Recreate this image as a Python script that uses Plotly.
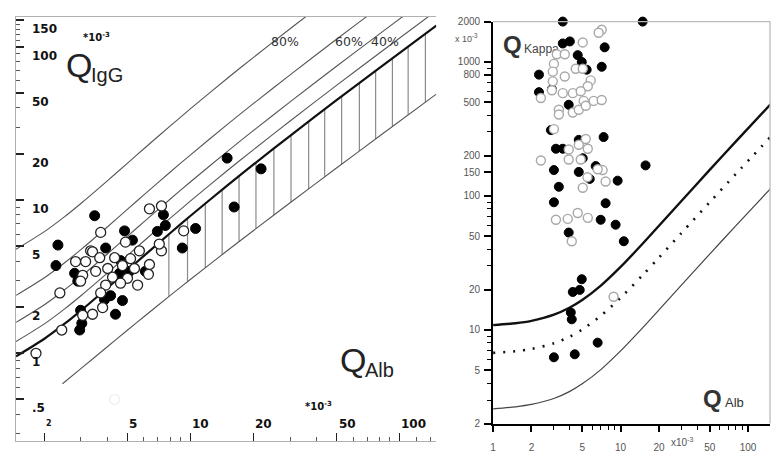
import math
import plotly.graph_objects as go

W, H = 773, 454

# ---------------- Left panel data (QIgG vs QAlb, units 1e-3) ----------------
alb_grid = [1.47, 2, 2.5, 3, 4, 5, 6, 8, 10, 15, 20, 30, 50, 80, 150]
igg_qlim = [0.956, 1.241, 1.555, 1.902, 2.662, 3.478, 4.327, 6.081, 7.875, 12.44, 17.04, 26.29, 44.86, 72.73, 137.8]
alb_low = [2.45, 3, 4, 5, 6, 8, 10, 15, 20, 30, 50, 80, 150]
igg_qlow = [0.633, 0.795, 1.100, 1.415, 1.734, 2.381, 3.033, 4.672, 6.316, 9.611, 16.21, 26.10, 49.20]
intrathecal_fractions = [0.2, 0.4, 0.6, 0.8]

hatch_alb = [7.9, 9.7, 11.8, 14.2, 17.1, 20.6, 25.1, 30.3, 36.8, 43.9, 52.9, 64.3, 76.9, 92.5, 110, 133]
hatch_low = [2.35, 2.93, 3.62, 4.41, 5.36, 6.51, 8.00, 9.71, 11.85, 14.19, 17.16, 20.92, 25.08, 30.23, 36.00, 43.59]
hatch_lim = [5.99, 7.60, 9.51, 11.70, 14.37, 17.59, 21.75, 26.57, 32.60, 39.19, 47.55, 58.14, 69.85, 84.36, 100.63, 122.01]

igg_filled_alb = [15.0, 21.8, 3.49, 16.2, 7.44, 4.85, 7.6, 10.6, 6.96, 5.29, 2.33, 3.94, 9.16, 2.28, 4.64,
                  2.80, 4.59, 5.12, 6.1, 4.74, 2.90, 4.16, 3.89, 4.74, 2.99, 4.39, 3.03, 2.96]
igg_filled_q = [18.8, 16.0, 7.91, 9.02, 8.02, 6.3, 6.83, 6.53, 6.25, 5.48, 5.09, 4.87, 4.87, 3.74, 4.03,
                3.33, 3.33, 3.43, 3.43, 3.23, 2.96, 2.38, 2.24, 2.21, 1.91, 1.80, 1.57, 1.42]
igg_open_alb = [6.38, 7.28, 9.3, 3.73, 4.90, 5.71, 7.28, 7.11, 3.34, 3.41, 2.83, 3.16, 3.69, 4.35, 5.18,
                6.38, 4.74, 5.41, 4.03, 3.53, 3.06, 6.31, 4.25, 5.01, 3.94, 4.64, 5.6, 2.99, 2.38, 3.73,
                3.81, 3.41, 3.06, 2.43, 1.83]
igg_open_q = [8.77, 9.16, 6.3, 6.16, 5.32, 4.67, 4.67, 5.17, 4.67, 4.6, 3.97, 3.97, 4.21, 4.21, 4.15,
              3.80, 3.74, 3.58, 3.58, 3.43, 3.23, 3.28, 3.14, 3.09, 2.79, 2.87, 2.79, 2.96, 2.48, 2.48,
              1.99, 1.80, 1.77, 1.42, 1.0]
igg_faint_alb = [4.35]
igg_faint_q = [0.50]

left_yticks = [0.5, 1, 2, 5, 10, 20, 50, 100, 150]
left_yticktext = [".5", "1", "2", "5", "10", "20", "50", "100", "150"]
left_xticks = [2, 5, 10, 20, 50, 100]
left_xticktext = ["2", "5", "10", "20", "50", "100"]
fraction_labels = ["80%", "60%", "40%"]

# ---------------- Right panel data (QKappa vs QAlb, units 1e-3) ----------------
alb_k = [1, 1.5, 2, 3, 4, 5, 7, 10, 15, 20, 30, 50, 80, 150]
kappa_lim = [10.87, 11.21, 11.69, 12.99, 14.69, 16.70, 21.41, 29.51, 44.32, 59.85, 91.68, 156.4, 254.1, 482.7]
kappa_mean = [6.74, 6.94, 7.21, 7.95, 8.92, 10.07, 12.76, 17.38, 25.83, 34.69, 52.86, 89.77, 145.5, 276.0]
kappa_low = [2.58, 2.67, 2.78, 3.08, 3.48, 3.96, 5.06, 6.97, 10.45, 14.10, 21.59, 36.80, 59.78, 113.5]

kap_filled_alb = [3.52, 14.9, 3.52, 4.0, 7.5, 4.61, 4.96, 2.29, 7.11, 5.42, 2.29, 2.89, 3.92, 2.84, 7.36,
                  3.11, 3.52, 4.70, 5.05, 3.0, 4.70, 6.38, 5.73, 15.7, 3.28, 9.48, 3.0, 7.63, 6.98, 9.14,
                  3.92, 10.6, 4.96, 4.22, 4.78, 4.07, 4.14, 6.61, 3.0, 4.37]
kap_filled_q = [2000, 2000, 1373, 1422, 1285, 1124, 1000, 804, 920, 875, 595, 626, 479, 310, 275,
                225, 225, 262, 191, 156, 151, 167, 134, 169, 117, 130, 89.7, 88.2, 66.4, 61.0,
                53.3, 45.9, 23.9, 19.2, 19.9, 13.5, 12.0, 8.04, 6.25, 6.58]
kap_open_alb = [7.11, 6.73, 5.05, 3.16, 3.65, 3.0, 4.45, 5.05, 2.94, 3.65, 5.83, 2.94, 5.53, 3.52, 4.22,
                4.87, 2.89, 2.37, 5.14, 6.15, 7.11, 3.28, 4.22, 4.70, 5.33, 3.28, 3.0, 5.33, 4.70, 5.53,
                3.92, 2.37, 3.92, 4.87, 7.23, 6.61, 5.05, 7.63, 5.5, 3.11, 3.85, 4.61, 5.53, 4.14, 8.82]
kap_open_q = [1738, 1652, 1398, 1142, 1142, 967, 890, 890, 846, 778, 728, 716, 658, 585, 585,
              605, 615, 538, 512, 512, 520, 440, 419, 440, 471, 405, 315, 266, 241, 225,
              222, 184, 187, 187, 156, 158, 115, 128, 138, 66.4, 67.4, 74.6, 68.6, 45.9, 17.7]

right_yticks = [2, 5, 10, 20, 50, 100, 150, 200, 500, 800, 1000, 2000]
right_xticks = [1, 2, 5, 10, 20, 50, 100, 150]


def px(x):
    return x / W


def py(y):
    return 1 - y / H


fig = go.Figure()

# ----- left panel lines -----
LX, LY = "x", "y"
hx, hy = [], []
for a, lo, hi in zip(hatch_alb, hatch_low, hatch_lim):
    hx += [a, a, None]
    hy += [lo, hi, None]
fig.add_trace(go.Scatter(x=hx, y=hy, mode="lines", line=dict(color="#8a8a8a", width=1.2),
                         xaxis=LX, yaxis=LY, hoverinfo="skip"))
for f in intrathecal_fractions:
    fig.add_trace(go.Scatter(x=alb_grid, y=[q / (1 - f) for q in igg_qlim], mode="lines",
                             line=dict(color="#555", width=1.1, shape="spline", smoothing=0.8),
                             xaxis=LX, yaxis=LY, hoverinfo="skip"))
fig.add_trace(go.Scatter(x=alb_low, y=igg_qlow, mode="lines",
                         line=dict(color="#555", width=1.1, shape="spline", smoothing=0.8),
                         xaxis=LX, yaxis=LY))
fig.add_trace(go.Scatter(x=alb_grid, y=igg_qlim, mode="lines",
                         line=dict(color="#111", width=2.2, shape="spline", smoothing=0.8),
                         xaxis=LX, yaxis=LY))
fig.add_trace(go.Scatter(x=igg_faint_alb, y=igg_faint_q, mode="markers",
                         marker=dict(size=10, color="white", line=dict(color="#eeeeee", width=1.2)),
                         xaxis=LX, yaxis=LY))
fig.add_trace(go.Scatter(x=igg_filled_alb, y=igg_filled_q, mode="markers",
                         marker=dict(size=10, color="black", line=dict(color="black", width=1)),
                         xaxis=LX, yaxis=LY))
fig.add_trace(go.Scatter(x=igg_open_alb, y=igg_open_q, mode="markers",
                         marker=dict(size=10, color="white", line=dict(color="#222", width=1.3)),
                         xaxis=LX, yaxis=LY))

# ----- right panel -----
RX, RY = "x2", "y2"
fig.add_trace(go.Scatter(x=[1.75], y=[1230], mode="text", text=["Kappa"], textposition="middle right",
                         textfont=dict(family="Liberation Sans, Arial", size=12, color="#444"),
                         xaxis=RX, yaxis=RY, cliponaxis=False))
fig.add_trace(go.Scatter(x=alb_k, y=kappa_low, mode="lines",
                         line=dict(color="#444", width=1.2, shape="spline", smoothing=0.8),
                         xaxis=RX, yaxis=RY))
fig.add_trace(go.Scatter(x=alb_k, y=kappa_mean, mode="lines",
                         line=dict(color="#111", width=2.6, dash="2px,8px", shape="spline", smoothing=0.8),
                         xaxis=RX, yaxis=RY))
fig.add_trace(go.Scatter(x=alb_k, y=kappa_lim, mode="lines",
                         line=dict(color="#111", width=2.4, shape="spline", smoothing=0.8),
                         xaxis=RX, yaxis=RY))
fig.add_trace(go.Scatter(x=kap_filled_alb, y=kap_filled_q, mode="markers", cliponaxis=False,
                         marker=dict(size=9, color="black", line=dict(color="black", width=1)),
                         xaxis=RX, yaxis=RY))
fig.add_trace(go.Scatter(x=kap_open_alb, y=kap_open_q, mode="markers", cliponaxis=False,
                         marker=dict(size=9, color="white", line=dict(color="#a8a8a8", width=1.4)),
                         xaxis=RX, yaxis=RY))

bold_font = dict(family="DejaVu Sans, Verdana", size=12, color="#111", weight="bold")
grey_font = dict(family="Liberation Sans, Arial", size=10, color="#555")

fig.update_layout(
    width=W, height=H, margin=dict(l=0, r=0, t=0, b=0),
    paper_bgcolor="white", plot_bgcolor="white", showlegend=False,
    xaxis=dict(type="log", domain=[px(13), px(435)], range=[0.1667, 2.176], anchor="y",
               showline=True, linecolor="#b0b0b0", linewidth=1, mirror=True,
               showgrid=False, zeroline=False, showticklabels=False,
               tickvals=left_xticks, ticks="inside", ticklen=8,
               tickcolor="#222", tickwidth=1.2,
               minor=dict(ticks="inside", ticklen=4, tickcolor="#555", tickwidth=1,
                          tickvals=[3, 4, 6, 7, 8, 9, 30, 40, 60, 70, 80, 90, 120, 140])),
    yaxis=dict(type="log", domain=[py(447), py(12)], range=[-0.573, 2.197], anchor="x",
               showline=True, linecolor="#b0b0b0", linewidth=1,
               showgrid=False, zeroline=False, showticklabels=False,
               tickvals=left_yticks, ticks="inside", ticklen=8,
               tickcolor="#222", tickwidth=1.5,
               minor=dict(ticks="inside", ticklen=4, tickcolor="#555", tickwidth=1,
                          tickvals=[0.3, 0.4, 0.6, 0.7, 0.8, 0.9, 3, 4, 6, 7, 8, 9,
                                    30, 40, 60, 70, 80, 90, 110, 120, 130, 140])),
    xaxis2=dict(type="log", domain=[px(492), px(770)], range=[0, 2.172], anchor="y2",
                showline=True, linecolor="black", linewidth=2, showgrid=False, zeroline=False,
                tickvals=right_xticks, ticks="outside", ticklen=6, tickcolor="black", tickwidth=1.5,
                ticklabelstandoff=7, tickfont=grey_font,
                minor=dict(ticks="outside", ticklen=4, tickcolor="black", tickwidth=1.2,
                           tickvals=[3, 4, 6, 7, 8, 9, 30, 40, 60, 70, 80, 90])),
    yaxis2=dict(type="log", domain=[py(429), py(17)], range=[0.30103, 3.30103], anchor="x2",
                showline=True, linecolor="black", linewidth=2, showgrid=False, zeroline=False,
                tickvals=right_yticks, ticks="outside", ticklen=7, tickcolor="black", tickwidth=1.5,
                tickfont=grey_font, ticklabelstandoff=2,
                minor=dict(ticks="outside", ticklen=4, tickcolor="black", tickwidth=1.2,
                           tickvals=[3, 4, 6, 7, 8, 9, 30, 40, 60, 70, 80, 90,
                                     300, 400, 600, 700, 900])),
)

# right panel frame (top and right)
fig.add_shape(type="line", xref="x2 domain", yref="y2 domain", x0=0, x1=1, y0=1, y1=1,
              line=dict(color="#bbbbbb", width=1.3))
fig.add_shape(type="line", xref="x2 domain", yref="y2 domain", x0=1, x1=1, y0=0, y1=1,
              line=dict(color="#bbbbbb", width=1.3))

# left panel tick labels (drawn inside the axes, offset like the original)
for v, t in zip(left_yticks, left_yticktext):
    fig.add_annotation(text=t, x=px(27), xref="paper", y=math.log10(v), yref="y",
                       yshift=-9, showarrow=False, xanchor="left", yanchor="middle",
                       font=bold_font)
for v, t in zip(left_xticks, left_xticktext):
    fnt = dict(bold_font)
    if t == "2":
        fnt["size"] = 8
    fig.add_annotation(text=t, x=math.log10(v), xref="x", y=py(429), yref="paper",
                       showarrow=False, xanchor="left", yanchor="middle", font=fnt)


def ann(text, x, y, size, color="#222", family="Liberation Sans, Arial", xanchor="left",
        weight="normal"):
    fig.add_annotation(text=text, x=px(x), y=py(y), xref="paper", yref="paper", showarrow=False,
                       xanchor=xanchor, yanchor="middle",
                       font=dict(size=size, color=color, family=family, weight=weight))


# left panel texts
ann("Q", 61, 61, 34, "#222", "Liberation Sans, Arial")
ann("IgG", 86, 72, 20, "#222", "Liberation Sans, Arial")
ann("*10<sup>-3</sup>", 78, 33, 10, "#111", "DejaVu Sans, Verdana", weight="bold")
ann("Q", 336, 364, 34, "#222", "Liberation Sans, Arial")
ann("Alb", 361, 374, 20, "#222", "Liberation Sans, Arial")
ann("*10<sup>-3</sup>", 301, 411, 10, "#111", "DejaVu Sans, Verdana", weight="bold")
for lab, xc in zip(fraction_labels, [283, 347, 383]):
    ann(lab, xc, 37, 12.5, "#333", "DejaVu Sans, Verdana", xanchor="center")

# right panel texts
ann("Q", 500, 40, 24, "#333", "Liberation Sans, Arial", weight="bold")
ann("x 10<sup>-3</sup>", 479, 34, 9, "#555", "Liberation Sans, Arial", xanchor="right")
ann("Q", 701, 403, 24, "#333", "Liberation Sans, Arial", weight="bold")
ann("Alb", 723, 407, 13, "#333", "Liberation Sans, Arial")
ann("x10<sup>-3</sup>", 669, 448, 10, "#555", "Liberation Sans, Arial")

fig.write_html("out.html", config={"displayModeBar": False},
               post_script="document.body.style.margin='0px';")
